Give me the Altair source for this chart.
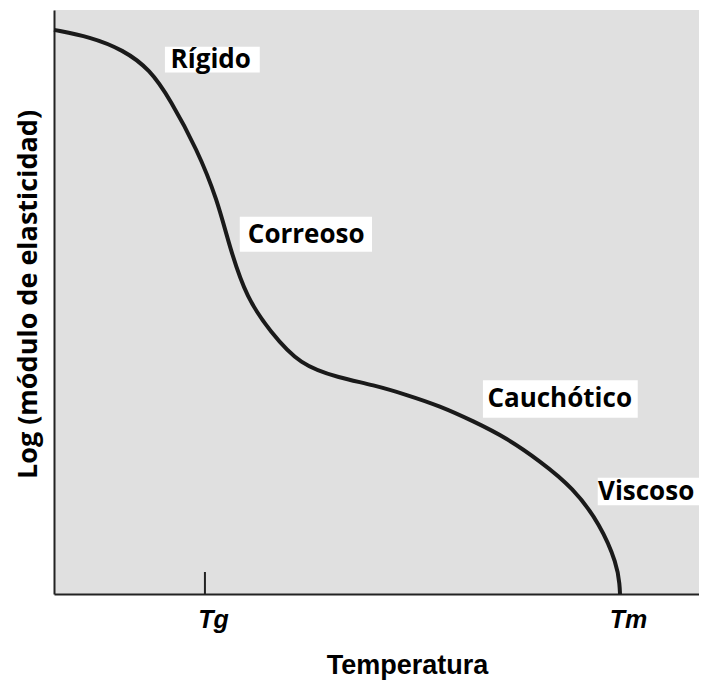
import altair as alt
import pandas as pd

# Curve (arbitrary temperature units 0-100, log modulus units 0-10)
temp = [0.0, 5.6, 10.7, 14.9, 18.0, 22.2, 25.3, 27.3, 29.9, 33.5, 38.1, 44.3,
        49.5, 54.7, 59.8, 65.0, 70.2, 75.3, 80.5, 84.7, 87.3, 87.7, 87.75]
log_mod = [9.66, 9.54, 9.32, 8.98, 8.47, 7.61, 6.76, 5.91, 5.06, 4.50, 3.92, 3.70,
           3.58, 3.41, 3.22, 2.96, 2.67, 2.28, 1.82, 1.19, 0.51, 0.15, 0.0]

# Characteristic temperatures
tick_values = [23.4, 87.75]
tick_labels = ["Tg", "Tm"]

# Region labels
regions = ["Rígido", "Correoso", "Cauchótico", "Viscoso"]
region_x = [24.3, 39.1, 78.4, 91.8]
region_y = [9.15, 6.15, 3.34, 1.75]
box_x1 = [17.2, 28.8, 66.5, 84.3]
box_x2 = [31.9, 49.3, 90.5, 100.0]
box_y1 = [9.37, 6.46, 3.66, 1.99]
box_y2 = [8.93, 5.86, 3.02, 1.52]

W, H = 645, 584

curve_df = pd.DataFrame({"t": temp, "e": log_mod})
lab_df = pd.DataFrame({"name": regions, "x": region_x, "y": region_y,
                       "x1": box_x1, "x2": box_x2, "y1": box_y1, "y2": box_y2})
tg_df = pd.DataFrame({"t": [tick_values[0]]})

xscale = alt.Scale(domain=[0, 100], nice=False, zero=False)
yscale = alt.Scale(domain=[0, 10], nice=False, zero=False)

label_expr = "datum.value < 50 ? '%s' : '%s'" % (tick_labels[0], tick_labels[1])

xaxis = alt.Axis(
    title="Temperatura", values=tick_values, labelExpr=label_expr,
    ticks=False, grid=False, domainColor="#222222", domainWidth=2,
    labelFont="Liberation Sans", labelFontStyle="italic", labelFontWeight="bold",
    labelFontSize=25, labelColor="black", labelPadding=13, labelOffset=8,
    titleFont="Liberation Sans", titleFontWeight="bold", titleFontSize=27,
    titleColor="black", titleX=353, titleY=71, titleBaseline="middle",
    titleAlign="center",
)
yaxis = alt.Axis(
    title="Log (módulo de elasticidad)", labels=False, ticks=False, grid=False,
    domainColor="#222222", domainWidth=2,
    titleFont="Open Sans", titleFontWeight="bold", titleFontSize=27,
    titleColor="black", titleX=-26, titleY=284, titleAngle=270,
    titleBaseline="middle", titleAlign="center",
)

curve = alt.Chart(curve_df).mark_line(
    interpolate="basis", strokeWidth=4, color="#1a1a1a"
).encode(
    x=alt.X("t:Q", scale=xscale, axis=xaxis),
    y=alt.Y("e:Q", scale=yscale, axis=yaxis),
)

boxes = alt.Chart(lab_df).mark_rect(color="white").encode(
    x=alt.X("x1:Q", scale=xscale), x2="x2:Q",
    y=alt.Y("y1:Q", scale=yscale), y2="y2:Q",
)

texts = alt.Chart(lab_df).mark_text(
    font="Open Sans", fontWeight="bold", fontSize=26, color="black",
    align="center", baseline="middle",
).encode(
    x=alt.X("x:Q", scale=xscale), y=alt.Y("y:Q", scale=yscale), text="name:N"
)

tg_tick = alt.Chart(tg_df).mark_rule(color="#222222", strokeWidth=2).encode(
    x=alt.X("t:Q", scale=xscale),
    y=alt.datum(0, scale=yscale),
    y2=alt.value(H - 22),
)

chart = alt.layer(boxes, curve, tg_tick, texts).properties(
    width=W, height=H,
    padding={"left": 46, "top": 2, "right": 0, "bottom": 88},
    autosize=alt.AutoSizeParams(type="none"),
).configure_view(fill="#e0e0e0", stroke=None)

chart.save("out.html", embed_options={"renderer": "svg", "actions": False})
